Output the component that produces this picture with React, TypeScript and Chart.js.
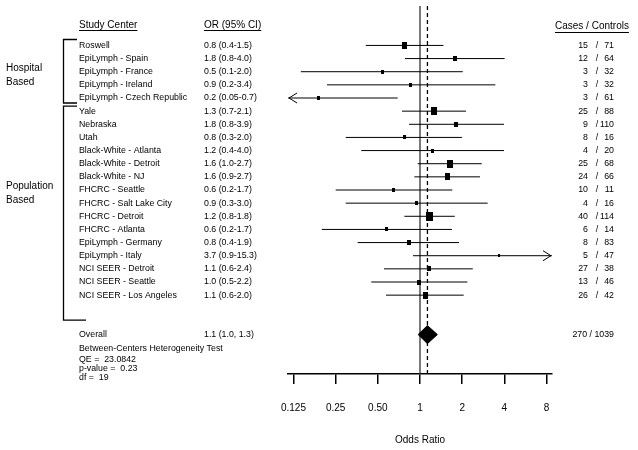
import React, { useEffect, useRef } from "react";
import { Chart, registerables } from "chart.js";

Chart.register(...registerables);

const centers = [
  "Roswell",
  "EpiLymph - Spain",
  "EpiLymph - France",
  "EpiLymph - Ireland",
  "EpiLymph - Czech Republic",
  "Yale",
  "Nebraska",
  "Utah",
  "Black-White - Atlanta",
  "Black-White - Detroit",
  "Black-White - NJ",
  "FHCRC - Seattle",
  "FHCRC - Salt Lake City",
  "FHCRC - Detroit",
  "FHCRC - Atlanta",
  "EpiLymph - Germany",
  "EpiLymph - Italy",
  "NCI SEER - Detroit",
  "NCI SEER - Seattle",
  "NCI SEER - Los Angeles",
];
// Table text column, as printed
const orLabels = [
  "0.8 (0.4-1.5)",
  "1.8 (0.8-4.0)",
  "0.5 (0.1-2.0)",
  "0.9 (0.2-3.4)",
  "0.2 (0.05-0.7)",
  "1.3 (0.7-2.1)",
  "1.8 (0.8-3.9)",
  "0.8 (0.3-2.0)",
  "1.2 (0.4-4.0)",
  "1.6 (1.0-2.7)",
  "1.6 (0.9-2.7)",
  "0.6 (0.2-1.7)",
  "0.9 (0.3-3.0)",
  "1.2 (0.8-1.8)",
  "0.6 (0.2-1.7)",
  "0.8 (0.4-1.9)",
  "3.7 (0.9-15.3)",
  "1.1 (0.6-2.4)",
  "1.0 (0.5-2.2)",
  "1.1 (0.6-2.0)",
];
// Plotted estimates (unrounded)
const oddsRatio = [0.77, 1.78, 0.54, 0.86, 0.19, 1.25, 1.81, 0.77, 1.22, 1.63, 1.56, 0.65, 0.94, 1.17, 0.58, 0.83, 3.68, 1.15, 0.99, 1.09];
const ciLower = [0.41, 0.78, 0.141, 0.217, 0.05, 0.744, 0.835, 0.295, 0.381, 0.963, 0.911, 0.25, 0.295, 0.773, 0.199, 0.359, 0.891, 0.553, 0.449, 0.572];
const ciUpper = [1.47, 4.02, 2.02, 3.45, 0.693, 2.13, 3.98, 1.99, 3.98, 2.76, 2.68, 1.7, 3.04, 1.77, 1.69, 1.9, 15.3, 2.38, 2.18, 2.05];
const cases = [15, 12, 3, 3, 3, 25, 9, 8, 4, 25, 24, 10, 4, 40, 6, 8, 5, 27, 13, 26];
const controls = [71, 64, 32, 32, 61, 88, 110, 16, 20, 68, 66, 11, 16, 114, 14, 83, 47, 38, 46, 42];

const overallOR = 1.13;
const overallLower = 0.97;
const overallUpper = 1.33;
const overallText = "1.1 (1.0, 1.3)";
const overallCases = 270;
const overallControls = 1039;

const heterogeneityLines = [
  "Between-Centers Heterogeneity Test",
  "QE =  23.0842",
  "p-value =  0.23",
  "df =  19",
];

const tickValues = [0.125, 0.25, 0.5, 1, 2, 4, 8];
const tickLabels = ["0.125", "0.25", "0.50", "1", "2", "4", "8"];

const FONT = "'Liberation Sans', Arial, Helvetica, sans-serif";

function makeBox(lo: number, hi: number) {
  const se = (Math.log(hi) - Math.log(lo)) / 3.92;
  const w = Math.max(2, Math.round(0.7 + 1.3 / se));
  const h = Math.max(2, Math.round(w * 1.3));
  const c = document.createElement("canvas");
  c.width = w;
  c.height = h;
  const cx = c.getContext("2d")!;
  cx.fillStyle = "#000";
  cx.fillRect(0, 0, w, h);
  return c;
}

const OVERALL_ROW = 22;

export default function App() {
  const ref = useRef<HTMLCanvasElement | null>(null);

  useEffect(() => {
    document.body.style.margin = "0";
    const canvas = ref.current!;
    const boxes = centers.map((_, i) => makeBox(ciLower[i], ciUpper[i]));

    const ciDatasets = centers.map((name, i) => ({
      label: "CI " + name,
      data: [
        { x: ciLower[i], y: i },
        { x: ciUpper[i], y: i },
      ],
      showLine: true,
      borderColor: "#000",
      borderWidth: 1,
      pointRadius: 0,
      order: 1,
    }));

    const tablePlugin = {
      id: "forestTable",
      afterDraw(chart: any) {
        const ctx = chart.ctx as CanvasRenderingContext2D;
        const xs = chart.scales.x;
        const ys = chart.scales.y;
        ctx.save();
        ctx.fillStyle = "#000";
        ctx.strokeStyle = "#000";
        ctx.textBaseline = "middle";

        // headers
        ctx.font = `10px ${FONT}`;
        ctx.textAlign = "left";
        const headers: [string, number, number][] = [
          ["Study Center", 79, 25],
          ["OR (95% CI)", 204, 25],
          ["Cases / Controls", 555, 26.5],
        ];
        ctx.lineWidth = 1;
        headers.forEach(([t, x, y]) => {
          ctx.fillText(t, x, y);
          const w = ctx.measureText(t).width;
          ctx.beginPath();
          ctx.moveTo(x, Math.round(y + 5) + 0.5);
          ctx.lineTo(x + w, Math.round(y + 5) + 0.5);
          ctx.stroke();
        });

        // group labels
        ctx.fillText("Hospital", 6, 68);
        ctx.fillText("Based", 6, 82);
        ctx.fillText("Population", 6, 186);
        ctx.fillText("Based", 6, 200);

        // rows
        ctx.font = `8.8px ${FONT}`;
        centers.forEach((name, i) => {
          const y = ys.getPixelForValue(i);
          ctx.textAlign = "left";
          ctx.fillText(name, 79, y);
          ctx.fillText(orLabels[i], 204, y);
          ctx.textAlign = "right";
          ctx.fillText(String(cases[i]), 588, y);
          ctx.fillText(String(controls[i]), 614, y);
          ctx.textAlign = "center";
          ctx.fillText("/", 597, y);
        });

        const oy = ys.getPixelForValue(OVERALL_ROW);
        ctx.textAlign = "left";
        ctx.fillText("Overall", 79, oy);
        ctx.fillText(overallText, 204, oy);
        ctx.textAlign = "right";
        ctx.fillText(`${overallCases} / ${overallControls}`, 614, oy);

        ctx.textAlign = "left";
        const hy = [349, 359.3, 368.3, 377.3];
        heterogeneityLines.forEach((t, k) => ctx.fillText(t, 79, hy[k]));

        // brackets
        ctx.lineWidth = 1.3;
        const bracket = (y1: number, y2: number, x2top: number, x2bot: number) => {
          ctx.beginPath();
          ctx.moveTo(x2top, y1);
          ctx.lineTo(63.5, y1);
          ctx.lineTo(63.5, y2);
          ctx.lineTo(x2bot, y2);
          ctx.stroke();
        };
        bracket(ys.getPixelForValue(-0.45), ys.getPixelForValue(4.38), 77, 77);
        bracket(ys.getPixelForValue(4.62), ys.getPixelForValue(20.9), 77, 86);

        // arrows for clipped intervals
        ctx.lineWidth = 1;
        centers.forEach((_, i) => {
          const y = ys.getPixelForValue(i);
          if (ciLower[i] < xs.min) {
            const x = xs.left + 1;
            ctx.beginPath();
            ctx.moveTo(x + 8, y - 5);
            ctx.lineTo(x, y);
            ctx.lineTo(x + 8, y + 5);
            ctx.stroke();
          }
          if (ciUpper[i] > xs.max) {
            const x = xs.right - 1;
            ctx.beginPath();
            ctx.moveTo(x - 8, y - 5);
            ctx.lineTo(x, y);
            ctx.lineTo(x - 8, y + 5);
            ctx.stroke();
          }
        });
        ctx.restore();
      },
    };

    const chart = new Chart(canvas, {
      type: "scatter",
      data: {
        datasets: [
          {
            label: "Estimates",
            data: centers.map((_, i) => ({ x: oddsRatio[i], y: i })),
            pointStyle: (c: any) => boxes[c.dataIndex] || "rect",
            pointRadius: 4,
            showLine: false,
            order: 0,
          } as any,
          {
            label: "Overall",
            data: [
              { x: overallLower, y: OVERALL_ROW },
              { x: overallOR, y: OVERALL_ROW - 0.69 },
              { x: overallUpper, y: OVERALL_ROW },
              { x: overallOR, y: OVERALL_ROW + 0.69 },
              { x: overallLower, y: OVERALL_ROW },
            ],
            showLine: true,
            fill: "shape",
            backgroundColor: "#000",
            borderColor: "#000",
            borderWidth: 1,
            pointRadius: 0,
            tension: 0,
            order: 0,
          } as any,
          ...(ciDatasets as any[]),
          {
            label: "Null",
            data: [
              { x: 1, y: -3 },
              { x: 1, y: 25 },
            ],
            showLine: true,
            borderColor: "#333",
            borderWidth: 1.3,
            pointRadius: 0,
            order: 2,
          } as any,
          {
            label: "Pooled",
            data: [
              { x: overallOR, y: -3 },
              { x: overallOR, y: 25 },
            ],
            showLine: true,
            borderColor: "#000",
            borderWidth: 1.3,
            borderDash: [4, 3],
            pointRadius: 0,
            order: 2,
          } as any,
        ],
      },
      options: {
        animation: false,
        responsive: false,
        devicePixelRatio: 1,
        events: [],
        layout: { padding: { left: 288, right: 86, top: 6, bottom: 0 } },
        plugins: {
          legend: { display: false },
          tooltip: { enabled: false },
        },
        scales: {
          x: {
            type: "logarithmic",
            min: 0.125 / Math.pow(2, 0.13),
            max: 8 * Math.pow(2, 0.13),
            afterBuildTicks: (scale: any) => {
              scale.ticks = tickValues.map((v) => ({ value: v }));
            },
            afterFit: (scale: any) => {
              scale.height = 76;
            },
            grid: {
              display: true,
              drawOnChartArea: false,
              drawTicks: true,
              tickLength: 10,
              color: "#000",
              lineWidth: 1.5,
            },
            border: { display: true, color: "#000", width: 1.5 },
            ticks: {
              autoSkip: false,
              maxRotation: 0,
              padding: 18,
              color: "#000",
              font: { family: FONT, size: 10 },
              callback: (_v: any, i: number) => tickLabels[i],
            },
            title: {
              display: true,
              text: "Odds Ratio",
              color: "#000",
              font: { family: FONT, size: 10 },
              padding: { top: 0, bottom: 4 },
            },
          },
          y: {
            type: "linear",
            min: -3,
            max: 25,
            reverse: true,
            display: false,
          },
        },
      } as any,
      plugins: [tablePlugin],
    });

    return () => chart.destroy();
  }, []);

  return (
    <div style={{ width: 638, height: 450, background: "#fff" }}>
      <canvas ref={ref} width={638} height={450} />
    </div>
  );
}
